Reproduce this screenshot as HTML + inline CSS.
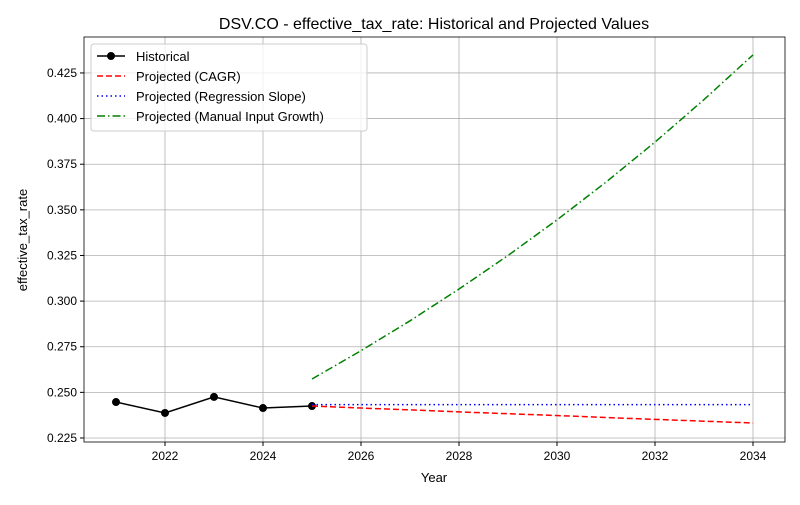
<!DOCTYPE html>
<html><head><meta charset="utf-8"><style>body{margin:0;background:#fff}svg text{font-family:"Liberation Sans","DejaVu Sans",sans-serif}</style></head>
<body>
<svg id="c" width="800" height="500"></svg>
<script>
const years=[2021,2022,2023,2024,2025];
const historical=[0.2447,0.2387,0.2475,0.2414,0.2425];
const projYears=[2025,2026,2027,2028,2029,2030,2031,2032,2033,2034];
const cagr=[0.2425,0.2414,0.2404,0.2393,0.2383,0.2373,0.2362,0.2352,0.2342,0.2332];
const regression=[0.2433,0.2433,0.2433,0.2433,0.2433,0.2433,0.2433,0.2433,0.2433,0.2433];
const manual=[0.2573,0.2728,0.2892,0.3066,0.3250,0.3445,0.3652,0.3871,0.4104,0.4349];
const xTicks=[2022,2024,2026,2028,2030,2032,2034];
const yTicks=[0.225,0.250,0.275,0.300,0.325,0.350,0.375,0.400,0.425];
const L=84,R=785,T=37,B=442,x0=2020.347,x1=2034.653,y0=0.2228,y1=0.4447;
const X=v=>L+(v-x0)/(x1-x0)*(R-L), Y=v=>B-(v-y0)/(y1-y0)*(B-T);
const s=document.getElementById('c'),NS='http://www.w3.org/2000/svg';
function el(t,a,p){const e=document.createElementNS(NS,t);for(const k in a)e.setAttribute(k,a[k]);(p||s).appendChild(e);return e;}
let e;
xTicks.forEach(v=>{e=el('line',{x1:X(v),x2:X(v),y1:T,y2:B,stroke:'#b0b0b0','stroke-width':0.8});


el('line',{x1:X(v),x2:X(v),y1:B,y2:B+4,stroke:'#000'});
e=el('text',{x:X(v),y:B+18,'font-size':12,'text-anchor':'middle'});e.textContent=v;

});
yTicks.forEach(v=>{e=el('line',{x1:L,x2:R,y1:Y(v),y2:Y(v),stroke:'#b0b0b0','stroke-width':0.8});


el('line',{x1:L-4,x2:L,y1:Y(v),y2:Y(v),stroke:'#000'});
e=el('text',{x:L-7,y:Y(v)+4,'font-size':12,'text-anchor':'end'});e.textContent=v.toFixed(3);

});
e=el('rect',{x:L,y:T,width:R-L,height:B-T,fill:'none',stroke:'#000','stroke-width':0.8});


function line(xs,ys,c,d,n){e=el('polyline',{points:xs.map((x,i)=>X(x)+','+Y(ys[i])).join(' '),fill:'none',stroke:c,'stroke-width':1.5,'stroke-dasharray':d});

}
line(years,historical,'#000','','historical-line');
years.forEach((x,i)=>{e=el('circle',{cx:X(x),cy:Y(historical[i]),r:4,fill:'#000'});

});
line(projYears,cagr,'red','6,3','cagr-line');
line(projYears,regression,'blue','1.5,3','regression-line');
line(projYears,manual,'green','8,3,1.5,3','manual-growth-line');
e=el('text',{x:434,y:29,'font-size':16,'text-anchor':'middle'});e.textContent='DSV.CO - effective_tax_rate: Historical and Projected Values';


e=el('text',{x:434,y:482,'font-size':13,'text-anchor':'middle'});e.textContent='Year';


e=el('text',{x:27,y:240,'font-size':13,'text-anchor':'middle',transform:'rotate(-90 27 240)'});e.textContent='effective_tax_rate';


const g=el('g',{});


el('rect',{x:91,y:44,width:276,height:87,rx:3,fill:'#fff','fill-opacity':0.8,stroke:'#ccc'},g);
const leg=[['Historical','#000',''],['Projected (CAGR)','red','6,3'],['Projected (Regression Slope)','blue','1.5,3'],['Projected (Manual Input Growth)','green','8,3,1.5,3']];
leg.forEach((l,i)=>{const y=56+i*20;
el('line',{x1:97,x2:125,y1:y,y2:y,stroke:l[1],'stroke-width':1.5,'stroke-dasharray':l[2]},g);
if(i==0)el('circle',{cx:111,cy:y,r:4,fill:'#000'},g);
e=el('text',{x:136,y:y+5,'font-size':13},g);e.textContent=l[0];

});
</script>
</body></html>
